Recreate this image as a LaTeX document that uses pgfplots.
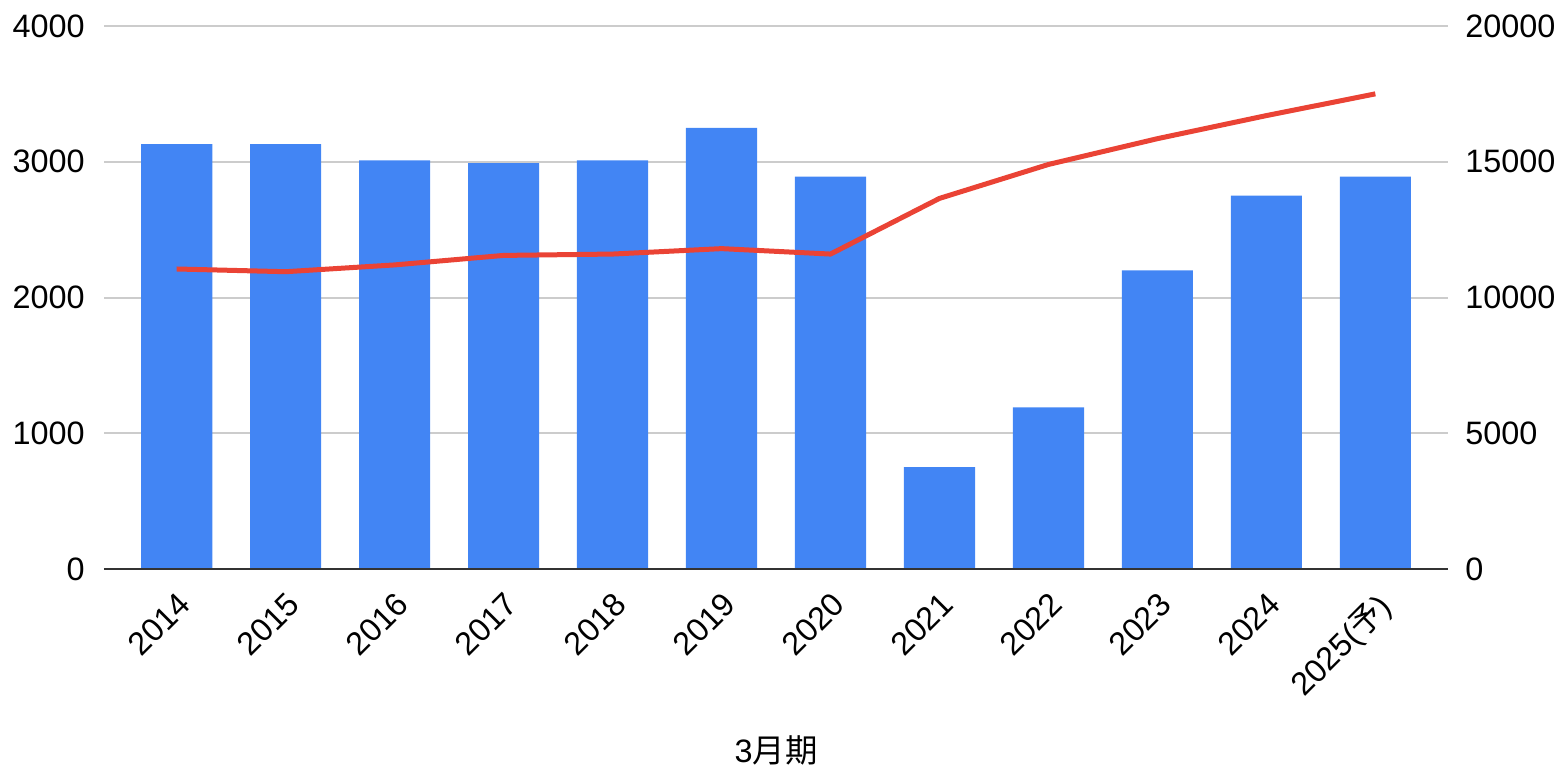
\documentclass[border=0pt]{standalone}
\usepackage{pgfplots}
\pgfplotsset{compat=1.18}
\usepackage{fontspec}
\setmainfont{Liberation Sans}
\newfontfamily\cjk{Noto Sans CJK JP}
\definecolor{barblue}{HTML}{4285F4}
\definecolor{linered}{HTML}{EA4335}
\definecolor{gridgray}{HTML}{CCCCCC}
\definecolor{axisdark}{HTML}{333333}
\begin{document}
\begin{tikzpicture}
\pgfplotsset{
  every axis/.append style={
    scale only axis, width=672pt, height=271.5pt,
    xmin=-0.667, xmax=11.667,
    font=\fontsize{16.2}{19}\selectfont,
    major tick length=0pt,
    /pgf/number format/assume math mode=true,
    /pgf/number format/1000 sep={},
    scaled y ticks=false,
  }
}
\begin{axis}[
  ymin=0, ymax=4000, ytick={0,1000,2000,3000,4000},
  ymajorgrids, grid style={gridgray, line width=1pt},
  axis x line*=bottom, axis y line*=left,
  x axis line style={draw=none}, y axis line style={draw=none},
  xtick={0,...,11},
  xticklabels={2014,2015,2016,2017,2018,2019,2020,2021,2022,2023,2024,{2025({\cjk 予})}},
  xticklabel style={yshift=-10.5pt, rotate=45, anchor=north east, inner sep=0pt},
  yticklabel style={inner sep=0pt, xshift=-9.5pt, anchor=east},
  xlabel={3{\cjk 月期}},
  xlabel style={at={(axis description cs:0.5,0)}, anchor=center, yshift=-90.5pt, inner sep=0pt},
]
\addplot[ybar, bar width=0.653, fill=barblue, draw=none] coordinates {
(0,3130)(1,3130)(2,3010)(3,2990)(4,3010)(5,3250)(6,2890)(7,750)(8,1190)(9,2200)(10,2750)(11,2890)};
\end{axis}
\begin{axis}[
  ymin=0, ymax=20000, ytick={0,5000,10000,15000,20000},
  axis y line*=right, y axis line style={draw=none},
  axis x line*=bottom, x axis line style={-, axisdark, line width=1.2pt},
  xtick=\empty,
  yticklabel style={inner sep=0pt, xshift=8.5pt, anchor=west},
]
\addplot[linered, line width=2.5pt, mark=none] coordinates {
(0,11050)(1,10950)(2,11200)(3,11550)(4,11600)(5,11800)(6,11600)(7,13650)(8,14900)(9,15850)(10,16700)(11,17500)};
\end{axis}
\pgfresetboundingbox
\path (-52pt,-98.5pt) rectangle (728.5pt,284.5pt);
\end{tikzpicture}
\end{document}
